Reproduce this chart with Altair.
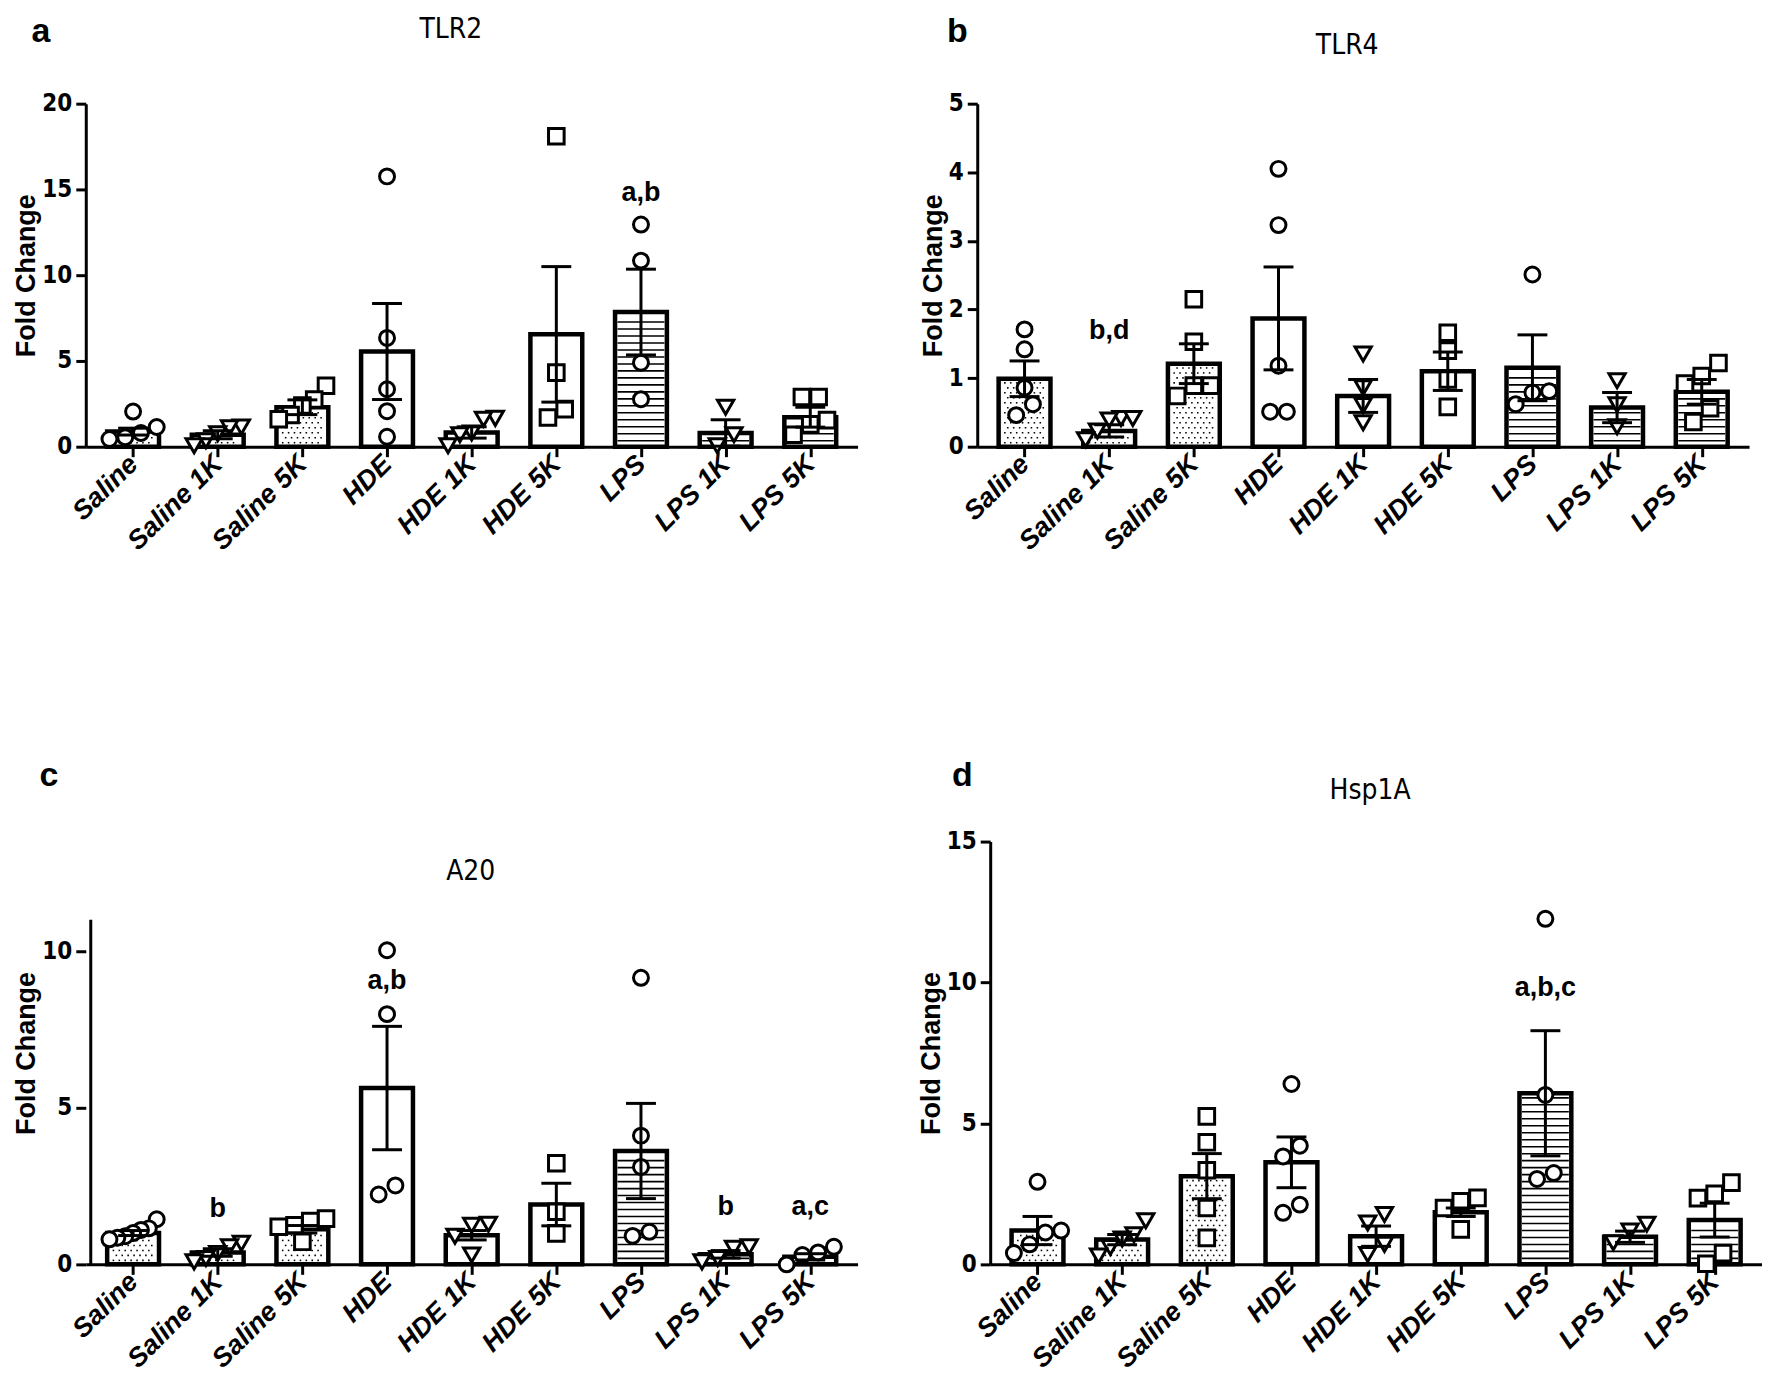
import json
import altair as alt
import numpy as np
import pandas as pd

FONT = "Liberation Sans"
NARROW = "Liberation Sans Narrow, DejaVu Sans Condensed, Liberation Sans"

CATS = ["Saline", "Saline 1K", "Saline 5K", "HDE", "HDE 1K", "HDE 5K", "LPS", "LPS 1K", "LPS 5K"]

# ---------------- TLR2 (panel a) ----------------
TLR2_MEAN = [0.88, 0.70, 2.30, 5.55, 0.83, 6.55, 7.85, 0.80, 1.72]
TLR2_SEM = [0.20, 0.23, 0.43, 2.80, 0.33, 3.95, 2.50, 0.77, 0.58]
TLR2_POINTS = [
    [2.05, 1.15, 0.80, 0.55, 0.45],
    [1.15, 1.10, 0.75, 0.35, 0.05],
    [3.55, 2.75, 2.40, 1.85, 1.60],
    [15.76, 6.34, 3.35, 2.07, 0.58],
    [1.65, 1.60, 0.80, 0.70, 0.05],
    [18.10, 4.32, 2.19, 1.70],
    [12.95, 10.85, 4.90, 2.77],
    [2.30, 0.70, 0.05],
    [2.90, 2.90, 1.55, 1.30, 0.70],
]
TLR2_SIG_CAT = ["LPS"]
TLR2_SIG_TEXT = ["a,b"]
TLR2_SIG_Y = [14.8]

# ---------------- TLR4 (panel b) ----------------
TLR4_MEAN = [0.99, 0.23, 1.21, 1.87, 0.74, 1.10, 1.15, 0.57, 0.80]
TLR4_SEM = [0.26, 0.09, 0.29, 0.75, 0.24, 0.28, 0.48, 0.22, 0.18]
TLR4_POINTS = [
    [1.71, 1.42, 0.86, 0.62, 0.46],
    [0.41, 0.39, 0.41, 0.23, 0.10],
    [2.15, 1.53, 0.89, 0.89, 0.74],
    [4.05, 3.23, 1.18, 0.51, 0.51],
    [1.35, 0.86, 0.60, 0.35],
    [1.66, 1.40, 0.98, 0.58],
    [2.51, 0.81, 0.79, 0.62],
    [0.96, 0.61, 0.29],
    [1.22, 1.03, 0.92, 0.56, 0.36],
]
TLR4_SIG_CAT = ["Saline 1K"]
TLR4_SIG_TEXT = ["b,d"]
TLR4_SIG_Y = [1.68]

# ---------------- A20 (panel c) ----------------
A20_MEAN = [1.00, 0.38, 1.12, 5.63, 0.93, 1.91, 3.62, 0.32, 0.24]
A20_SEM = [0.08, 0.12, 0.12, 1.97, 0.15, 0.68, 1.52, 0.12, 0.10]
A20_POINTS = [
    [1.44, 1.15, 1.10, 1.00, 0.90, 0.85, 0.80],
    [0.67, 0.56, 0.35, 0.19, 0.08],
    [1.46, 1.38, 1.25, 1.20, 0.72],
    [10.03, 7.99, 2.52, 2.23],
    [1.28, 1.25, 0.90, 0.30],
    [3.23, 1.68, 0.99],
    [9.15, 4.11, 3.11, 1.04, 0.91],
    [0.56, 0.51, 0.19, 0.08],
    [0.56, 0.38, 0.30, 0.00],
]
A20_SIG_CAT = ["HDE", "Saline 1K", "LPS 1K", "LPS 5K"]
A20_SIG_TEXT = ["a,b", "b", "b", "a,c"]
A20_SIG_Y = [9.05, 1.78, 1.83, 1.83]

# ---------------- Hsp1A (panel d) ----------------
HSP_MEAN = [1.20, 0.88, 3.13, 3.62, 1.00, 1.85, 6.07, 0.98, 1.57]
HSP_SEM = [0.50, 0.18, 0.80, 0.90, 0.36, 0.15, 2.22, 0.20, 0.60]
HSP_POINTS = [
    [2.93, 1.20, 1.13, 0.71, 0.40],
    [1.55, 1.05, 0.90, 0.60, 0.30],
    [5.25, 4.33, 3.34, 2.00, 0.94],
    [6.40, 4.21, 3.83, 2.12, 1.83],
    [1.77, 1.47, 0.71, 0.35],
    [2.36, 2.24, 2.00, 1.24],
    [12.26, 6.01, 3.24, 3.03],
    [1.42, 1.18, 0.77],
    [2.90, 2.50, 2.35, 0.40, 0.02],
]
HSP_SIG_CAT = ["LPS"]
HSP_SIG_TEXT = ["a,b,c"]
HSP_SIG_Y = [9.79]

# ---------------- styling (not data) ----------------
SHAPES_DEFAULT = ["circle", "triangle-down", "square"] * 3
SHAPES_A20 = SHAPES_DEFAULT[:8] + ["circle"]
SHAPE_SIZE = {"circle": 225, "square": 245, "triangle-down": 265}
PLOT_W = 774
STEP = PLOT_W / 9.0
BAR_W = 52
BAR_STROKE = 4.5
DOTTED = [0, 1, 2]
STRIPED = [6, 7, 8]


def swarm_offsets(vals, ppu):
    """Spread overlapping markers sideways (pixel offsets)."""
    vals = np.asarray(vals, dtype=float)
    order = np.argsort(vals)
    clusters = []
    for i in order:
        if clusters and (vals[i] - vals[clusters[-1][-1]]) * ppu < 15:
            clusters[-1].append(i)
        else:
            clusters.append([i])
    offs = np.zeros(len(vals))
    for cl in clusters:
        k = len(cl)
        gap = 17 if k <= 3 else min(17, 48.0 / (k - 1))
        for j, i in enumerate(cl):
            offs[i] = (j - (k - 1) / 2.0) * gap
    return offs


def panel(means, sems, points, sig_cat, sig_text, sig_y, ymax, yticks, height,
          title, title_x, title_y, letter, letter_x, letter_y, shapes, axis_top=None):
    ppu = height / ymax
    idx = list(range(len(CATS)))
    bars = pd.DataFrame({"idx": idx, "cat": CATS, "mean": means,
                         "lo": [m - s for m, s in zip(means, sems)],
                         "hi": [m + s for m, s in zip(means, sems)]})
    prow = []
    for i, vals in enumerate(points):
        offs = swarm_offsets(vals, ppu)
        for v, o in zip(vals, offs):
            prow.append({"x": i + o / STEP, "v": v, "shape": shapes[i],
                         "size": SHAPE_SIZE[shapes[i]]})
    pts = pd.DataFrame(prow)

    # fill textures (decoration for the patterned bars)
    dots = []
    for i in DOTTED:
        top = means[i] * ppu
        r = 0
        yp = 4.0
        while yp < top - 4:
            xp = -20.0 + (3.0 if r % 2 else 0.0)
            while xp <= 20.5:
                dots.append({"x": i + xp / STEP, "y": yp / ppu})
                xp += 6.0
            yp += 5.0
            r += 1
    dots = pd.DataFrame(dots if dots else [{"x": 0, "y": 0}])
    stripes = []
    for i in STRIPED:
        top = means[i] * ppu
        yp = 6.0
        while yp < top - 4:
            stripes.append({"x": i, "y": yp / ppu})
            yp += 7.0
    stripes = pd.DataFrame(stripes if stripes else [{"x": 0, "y": 0}])

    sig = pd.DataFrame({"x": [CATS.index(c) for c in sig_cat], "y": sig_y, "t": sig_text})

    xscale = alt.Scale(domain=[-0.5, len(CATS) - 0.5], nice=False, zero=False)
    yscale = alt.Scale(domain=[0, ymax], nice=False, zero=False)
    label_expr = json.dumps(CATS) + "[datum.value]"
    xaxis = alt.Axis(values=idx, labelExpr=label_expr, labelAngle=-45, labelAlign="right",
                     labelBaseline="middle", labelFont=FONT, labelFontSize=27,
                     labelFontWeight="bold", labelFontStyle="italic", labelColor="black",
                     labelPadding=3, tickSize=10, tickWidth=3, tickColor="black",
                     domainWidth=3, domainColor="black", grid=False, title=None,
                     labelOverlap=False)
    yaxis = alt.Axis(values=yticks, format="d", title="Fold Change", titleFont=FONT,
                     titleFontSize=27, titleFontWeight="bold", titleColor="black",
                     titlePadding=1, labelFont=NARROW, labelFontSize=24,
                     labelFontWeight="bold", labelColor="black", labelPadding=4,
                     tickSize=10, tickWidth=3, tickColor="black", domainWidth=3,
                     domainColor="black", grid=False, domain=axis_top is None)

    bar = alt.Chart(bars).mark_bar(width=BAR_W, fill="white", stroke="black",
                                   strokeWidth=BAR_STROKE, strokeJoin="miter").encode(
        x=alt.X("idx:Q", scale=xscale, axis=xaxis),
        y=alt.Y("mean:Q", scale=yscale, axis=yaxis))
    dot = alt.Chart(dots).mark_square(size=2.4, color="black", opacity=1).encode(
        x=alt.X("x:Q", scale=xscale), y=alt.Y("y:Q", scale=yscale))
    stripe = alt.Chart(stripes).mark_tick(orient="horizontal", size=BAR_W - 5,
                                          thickness=1.6, color="black", opacity=1).encode(
        x=alt.X("x:Q", scale=xscale), y=alt.Y("y:Q", scale=yscale))
    pt = alt.Chart(pts).mark_point(fill="white", fillOpacity=1, stroke="black",
                                   strokeWidth=3, opacity=1).encode(
        x=alt.X("x:Q", scale=xscale), y=alt.Y("v:Q", scale=yscale),
        shape=alt.Shape("shape:N", scale=None), size=alt.Size("size:Q", scale=None))
    err = alt.Chart(bars).mark_rule(strokeWidth=3, color="black").encode(
        x=alt.X("idx:Q", scale=xscale), y=alt.Y("lo:Q", scale=yscale), y2="hi:Q")
    cap_hi = alt.Chart(bars).mark_tick(orient="horizontal", size=30, thickness=3,
                                       color="black", opacity=1).encode(
        x=alt.X("idx:Q", scale=xscale), y=alt.Y("hi:Q", scale=yscale))
    cap_lo = alt.Chart(bars).mark_tick(orient="horizontal", size=30, thickness=3,
                                       color="black", opacity=1).encode(
        x=alt.X("idx:Q", scale=xscale), y=alt.Y("lo:Q", scale=yscale))
    ann = alt.Chart(sig).mark_text(font=FONT, fontSize=27, fontWeight="bold",
                                   color="black", baseline="middle").encode(
        x=alt.X("x:Q", scale=xscale), y=alt.Y("y:Q", scale=yscale), text="t:N")
    let = alt.Chart(pd.DataFrame({"t": [letter]})).mark_text(
        font=FONT, fontSize=34, fontWeight="bold", color="black",
        baseline="alphabetic", align="center").encode(
        x=alt.value(letter_x), y=alt.value(letter_y), text="t:N")
    ttl = alt.Chart(pd.DataFrame({"t": [title]})).mark_text(
        font=NARROW, fontSize=28, fontWeight="normal", color="black",
        baseline="middle", align="center").encode(
        x=alt.value(title_x), y=alt.value(title_y), text="t:N")
    layers = [bar, dot, stripe, pt, err, cap_hi, cap_lo, ann, let, ttl]
    if axis_top is not None:
        axl = alt.Chart(pd.DataFrame({"a": [0]})).mark_rule(strokeWidth=3, color="black").encode(
            x=alt.datum(-0.5), y=alt.datum(0), y2=alt.datum(axis_top))
        layers.append(axl)
    return alt.layer(*layers).properties(width=PLOT_W, height=height)


pa = panel(TLR2_MEAN, TLR2_SEM, TLR2_POINTS, TLR2_SIG_CAT, TLR2_SIG_TEXT, TLR2_SIG_Y,
           20, [0, 5, 10, 15, 20], 344, "TLR2", 366, -74, "a", -45, -62, SHAPES_DEFAULT)
pb = panel(TLR4_MEAN, TLR4_SEM, TLR4_POINTS, TLR4_SIG_CAT, TLR4_SIG_TEXT, TLR4_SIG_Y,
           5, [0, 1, 2, 3, 4, 5], 344, "TLR4", 371, -58, "b", -20, -62, SHAPES_DEFAULT)
pc = panel(A20_MEAN, A20_SEM, A20_POINTS, A20_SIG_CAT, A20_SIG_TEXT, A20_SIG_Y,
           13.5, [0, 5, 10], 424, "A20", 386, 31, "c", -37, -56, SHAPES_A20, axis_top=11)
pd_ = panel(HSP_MEAN, HSP_SEM, HSP_POINTS, HSP_SIG_CAT, HSP_SIG_TEXT, HSP_SIG_Y,
            15, [0, 5, 10, 15], 424, "Hsp1A", 381, -51, "d", -28, -56, SHAPES_DEFAULT)

top = alt.hconcat(pa, pb, spacing=120, bounds="flush")
bottom = alt.hconcat(pc, pd_, spacing=133, bounds="flush")
chart = alt.vconcat(top, bottom, spacing=740, bounds="flush").properties(
    padding={"left": 4, "top": 5, "right": 0, "bottom": 0},
    background="white").configure_view(stroke="transparent", strokeWidth=0)

chart.save("out.html", embed_options={"renderer": "svg", "actions": False})
